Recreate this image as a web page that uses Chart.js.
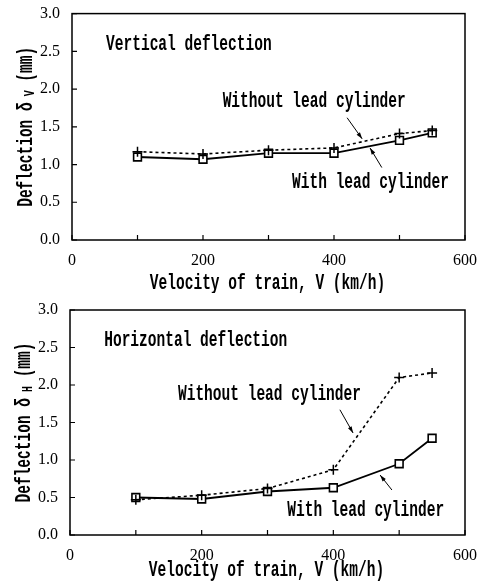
<!DOCTYPE html>
<html>
<head>
<meta charset="utf-8">
<script src="https://cdn.jsdelivr.net/npm/chart.js@4.4.0/dist/chart.umd.min.js"></script>
<style>
  html, body { margin: 0; padding: 0; background: #fff; }
  #wrap { position: relative; width: 483px; height: 585px; }
  canvas { position: absolute; left: 0; }
</style>
</head>
<body>
<div id="wrap">
  <canvas id="top" width="483" height="293" style="top:0"></canvas>
  <canvas id="bottom" width="483" height="292" style="top:293px"></canvas>
</div>
<script>
const speeds = [100, 200, 300, 400, 500, 550];
const vertWithout = [1.17, 1.14, 1.19, 1.22, 1.41, 1.45];
const vertWith = [1.10, 1.07, 1.15, 1.15, 1.32, 1.42];
const horizWithout = [0.47, 0.53, 0.62, 0.87, 2.10, 2.16];
const horizWith = [0.50, 0.48, 0.58, 0.63, 0.95, 1.29];
const xTicks = [0, 200, 400, 600];

const LABEL_FONT = 'bold 22px "Liberation Mono"';
const SQUEEZE = 0.66;

const toPoints = (ys) => speeds.map((x, i) => ({ x: x, y: ys[i] }));

function squeezedText(ctx, text, x, y, align) {
    ctx.save();
    ctx.font = LABEL_FONT;
    const w = ctx.measureText(text).width * SQUEEZE;
    let left = x;
    if (align === 'center') left = x - w / 2;
    ctx.translate(left, y);
    ctx.scale(SQUEEZE, 1);
    ctx.textAlign = 'left';
    ctx.textBaseline = 'middle';
    ctx.fillStyle = '#000';
    ctx.fillText(text, 0, 0);
    ctx.restore();
}

// frame, inward ticks, titles, in-plot labels and arrows
const decor = {
    id: 'decor',
    afterDraw(chart, args, opts) {
        const { ctx, chartArea: a, scales } = chart;
        const xs = scales.x, ys = scales.y;
        ctx.save();
        ctx.strokeStyle = '#000';
        ctx.lineWidth = 1.5;
        ctx.strokeRect(a.left, a.top, a.right - a.left, a.bottom - a.top);
        ctx.lineWidth = 1.2;
        ctx.beginPath();
        xs.ticks.forEach(t => {
            const px = xs.getPixelForValue(t.value);
            ctx.moveTo(px, a.bottom);
            ctx.lineTo(px, a.bottom - 5);
        });
        ys.ticks.forEach(t => {
            const py = ys.getPixelForValue(t.value);
            ctx.moveTo(a.left, py);
            ctx.lineTo(a.left + 5, py);
        });
        ctx.stroke();

        // x title
        squeezedText(ctx, 'Velocity of train, V (km/h)', (a.left + a.right) / 2 - 1, opts.xTitleY, 'center');

        // y title with subscript
        ctx.save();
        ctx.translate(opts.yTitleX, (a.top + a.bottom) / 2);
        ctx.rotate(-Math.PI / 2);
        ctx.font = LABEL_FONT;
        const p1 = 'Deflection δ', p2 = ' (mm)';
        const subFont = 'bold 15px "Liberation Mono"';
        const w1 = ctx.measureText(p1).width * SQUEEZE;
        const w3 = ctx.measureText(p2).width * SQUEEZE;
        ctx.font = subFont;
        const w2 = ctx.measureText(' ' + opts.sub).width * SQUEEZE;
        const total = w1 + w2 + w3;
        let cx = -total / 2;
        ctx.fillStyle = '#000';
        ctx.textBaseline = 'middle';
        ctx.save(); ctx.translate(cx, 0); ctx.scale(SQUEEZE, 1); ctx.font = LABEL_FONT; ctx.fillText(p1, 0, 0); ctx.restore();
        cx += w1;
        ctx.save(); ctx.translate(cx, 4); ctx.scale(SQUEEZE, 1); ctx.font = subFont; ctx.fillText(' ' + opts.sub, 0, 0); ctx.restore();
        cx += w2;
        ctx.save(); ctx.translate(cx, 0); ctx.scale(SQUEEZE, 1); ctx.font = LABEL_FONT; ctx.fillText(p2, 0, 0); ctx.restore();
        ctx.restore();

        // labels inside the plot
        opts.notes.forEach(n => {
            squeezedText(ctx, n.text, xs.getPixelForValue(n.x), ys.getPixelForValue(n.y), 'left');
        });
        ctx.lineWidth = 1;
        opts.arrows.forEach(r => {
            const x0 = xs.getPixelForValue(r[0]), y0 = ys.getPixelForValue(r[1]);
            const x1 = xs.getPixelForValue(r[2]), y1 = ys.getPixelForValue(r[3]);
            ctx.beginPath();
            ctx.moveTo(x0, y0);
            ctx.lineTo(x1, y1);
            ctx.stroke();
            const ang = Math.atan2(y1 - y0, x1 - x0);
            ctx.beginPath();
            ctx.moveTo(x1, y1);
            ctx.lineTo(x1 - 7 * Math.cos(ang - 0.3), y1 - 7 * Math.sin(ang - 0.3));
            ctx.lineTo(x1 - 7 * Math.cos(ang + 0.3), y1 - 7 * Math.sin(ang + 0.3));
            ctx.closePath();
            ctx.fillStyle = '#000';
            ctx.fill();
        });
        ctx.restore();
    }
};

function makeChart(id, withoutVals, withVals, cfg) {
    return new Chart(document.getElementById(id), {
        type: 'line',
        data: {
            datasets: [
                {
                    label: 'Without lead cylinder',
                    data: toPoints(withoutVals),
                    borderColor: '#000',
                    borderWidth: 1.6,
                    borderDash: [3, 3],
                    pointStyle: 'cross',
                    pointRadius: 5,
                    pointBorderWidth: 1.5,
                    pointBorderColor: '#000',
                    tension: 0,
                },
                {
                    label: 'With lead cylinder',
                    data: toPoints(withVals),
                    borderColor: '#000',
                    borderWidth: 1.8,
                    pointStyle: 'rect',
                    pointRadius: 5.5,
                    pointBackgroundColor: '#fff',
                    pointBorderColor: '#000',
                    pointBorderWidth: 1.6,
                    tension: 0,
                },
            ],
        },
        options: {
            responsive: false,
            animation: false,
            layout: { padding: { top: cfg.padTop, right: 18, left: 0, bottom: 0 } },
            plugins: {
                legend: { display: false },
                tooltip: { enabled: false },
                decor: cfg.decor,
            },
            scales: {
                x: {
                    type: 'linear',
                    min: 0,
                    max: 600,
                    grid: { display: false },
                    border: { display: false },
                    ticks: {
                        stepSize: 100,
                        autoSkip: false,
                        maxRotation: 0,
                        padding: 3,
                        color: '#000',
                        font: { family: '"Liberation Serif"', size: 16 },
                        callback: v => (xTicks.includes(v) ? String(v) : ''),
                    },
                    afterFit: s => { s.height = cfg.xHeight; },
                },
                y: {
                    min: 0,
                    max: 3,
                    grid: { display: false },
                    border: { display: false },
                    ticks: {
                        stepSize: 0.5,
                        padding: 4,
                        color: '#000',
                        font: { family: '"Liberation Serif"', size: 16 },
                        callback: v => v.toFixed(1),
                    },
                    afterFit: s => { s.width = cfg.yWidth; },
                },
            },
        },
        plugins: [decor],
    });
}

makeChart('top', vertWithout, vertWith, {
    padTop: 12, xHeight: 53, yWidth: 72,
    decor: {
        sub: 'V', yTitleX: 26, xTitleY: 283,
        notes: [
            { text: 'Vertical deflection', x: 52, y: 2.59 },
            { text: 'Without lead cylinder', x: 230, y: 1.84 },
            { text: 'With lead cylinder', x: 336, y: 0.76 },
        ],
        arrows: [[420, 1.62, 443, 1.34], [473, 0.96, 455, 1.22]],
    },
});

makeChart('bottom', horizWithout, horizWith, {
    padTop: 17, xHeight: 50, yWidth: 70,
    decor: {
        sub: 'H', yTitleX: 24, xTitleY: 277,
        notes: [
            { text: 'Horizontal deflection', x: 52, y: 2.6 },
            { text: 'Without lead cylinder', x: 164, y: 1.88 },
            { text: 'With lead cylinder', x: 330, y: 0.33 },
        ],
        arrows: [[410, 1.67, 430, 1.36], [489, 0.6, 471, 0.8]],
    },
});
</script>
</body>
</html>
